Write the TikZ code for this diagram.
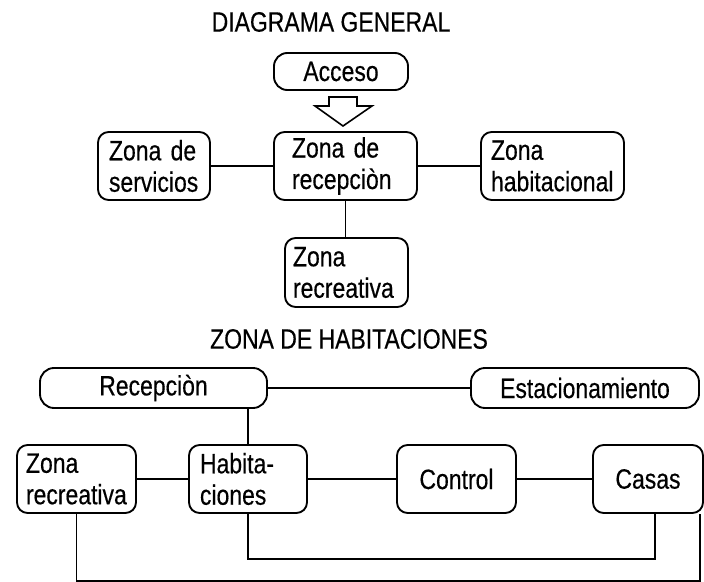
\documentclass[tikz,border=0pt]{standalone}
\usepackage{fontspec}
\setmainfont{Liberation Sans}[FakeStretch=0.82,FakeBold=0.4]
\usetikzlibrary{calc}
\begin{document}
\begin{tikzpicture}[x=0.75pt,y=-0.75pt,line width=1.4pt,
  txt/.style={font=\fontsize{21}{23.6}\selectfont, inner sep=0pt},
  lbox/.style n args={3}{draw, rounded corners=8pt, txt, align=left,
    text width=#1, inner xsep=#2, inner ysep=0pt, minimum height=#3},
  cbox/.style n args={3}{draw, rounded corners=#3, txt, align=center,
    minimum width=#1, minimum height=#2},
  conn/.style={draw, line width=1.4pt}]
\useasboundingbox (0,0) rectangle (704,582);

% ---------- DIAGRAMA GENERAL ----------
\node[txt] (t1) at (331,22) {DIAGRAMA GENERAL};
\node[cbox={100.5pt}{27.75pt}{10pt}] (acc) at (341,71.5) {Acceso};
\node[lbox={67.5pt}{8.25pt}{51pt}] (serv) at (154,166) {Zona de\\servicios};
\node[lbox={80.25pt}{13.5pt}{51pt}] (rec) at (345.5,166) {Zona de\\recepciòn};
\node[lbox={92.25pt}{7.5pt}{51pt}] (hab) at (552.5,166) {Zona\\habitacional};
\node[lbox={80.25pt}{6pt}{51.75pt}] (recr) at (346.5,272.5) {Zona\\recreativa};

\draw[line width=1.2pt, line join=miter] (329,97) -- (357,97) -- (357,106) -- (372,106) -- (343,126)
  -- (315,106) -- (329,106) -- cycle;

\draw[conn] (serv) -- (rec);
\draw[conn] (rec) -- (hab);
\draw[conn] (rec.south) -- (rec.south |- recr.north);

% ---------- ZONA DE HABITACIONES ----------
\node[txt] (t2) at (349,339) {ZONA DE HABITACIONES};
\node[cbox={170.25pt}{30pt}{10.5pt}] (recp) at (153.5,388) {Recepciòn};
\node[cbox={171pt}{30pt}{10.5pt}] (est) at (585,388) {Estacionamiento};
\node[lbox={75.75pt}{6.75pt}{51pt}] (zr) at (76.5,479) {Zona\\recreativa};
\node[lbox={72pt}{8.25pt}{51pt}] (hab2) at (248,479) {Habita-\\ciones};
\node[cbox={89.25pt}{51pt}{8pt}] (ctrl) at (456.5,479) {Control};
\node[cbox={82.5pt}{51pt}{8pt}] (casas) at (648,479) {Casas};

\draw[conn] (recp) -- (est);
\draw[conn] (hab2.north) -- (hab2.north |- recp.south);
\draw[conn] (zr) -- (hab2);
\draw[conn] (hab2) -- (ctrl);
\draw[conn] (ctrl) -- (casas);
\draw[conn] (hab2.south) -- ++(0,45) -| ([xshift=5.25pt]casas.south);
\draw[conn] (zr.south) -- ++(0,67) -| ([xshift=-3pt]casas.south east);
\end{tikzpicture}
\end{document}
